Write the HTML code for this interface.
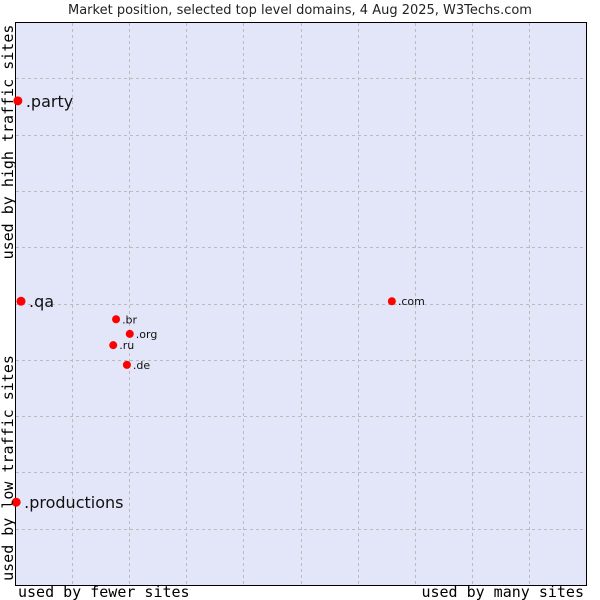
<!DOCTYPE html>
<html><head><meta charset="utf-8"><style>body{margin:0;background:#fff}svg{display:block}</style></head>
<body>
<svg id="chart" width="600" height="600" xmlns="http://www.w3.org/2000/svg">
<text x="300" y="14" text-anchor="middle" font-family="DejaVu Sans, sans-serif" font-size="13" fill="#222">Market position, selected top level domains, 4 Aug 2025, W3Techs.com</text>
<rect x="15.5" y="22.5" width="571" height="563" fill="#e3e5f8" stroke="#000"/>
<g id="grid"></g>
<g id="marks"></g>
<text x="18" y="597" font-family="DejaVu Sans Mono, monospace" font-size="15" fill="#000">used by fewer sites</text>
<text x="584" y="597" text-anchor="end" font-family="DejaVu Sans Mono, monospace" font-size="15" fill="#000">used by many sites</text>
<text transform="translate(13,142) rotate(-90)" text-anchor="middle" font-family="DejaVu Sans Mono, monospace" font-size="15" fill="#000">used by high traffic sites</text>
<text transform="translate(13,468) rotate(-90)" text-anchor="middle" font-family="DejaVu Sans Mono, monospace" font-size="15" fill="#000">used by low traffic sites</text>
</svg>
<script>
const domains=[".party",".qa",".productions",".com",".br",".org",".ru",".de"];
const xValues=[0.5,1.05,0.2,66,17.7,20.1,17.2,19.6];
const yValues=[86,50.4,14.7,50.4,47.2,44.6,42.6,39.1];
const bigLabel=[true,true,true,false,false,false,false,false];
const NS="http://www.w3.org/2000/svg";
const x0=15,x1=586,y0=585,y1=22;
function sx(v){return x0+(x1-x0)*v/100;}
function sy(v){return y0-(y0-y1)*v/100;}
const grid=document.getElementById('grid');
for(let i=1;i<10;i++){
 const xl=document.createElementNS(NS,'line');
 const gx=Math.round(sx(i*10))+0.5;
 xl.setAttribute('x1',gx);xl.setAttribute('x2',gx);xl.setAttribute('y1',23);xl.setAttribute('y2',585);
 xl.setAttribute('stroke','#bbb');xl.setAttribute('stroke-dasharray','3,3');
 
 
 grid.appendChild(xl);
 const yl=document.createElementNS(NS,'line');
 const gy=Math.round(sy(i*10))+0.5;
 yl.setAttribute('x1',16);yl.setAttribute('x2',586);yl.setAttribute('y1',gy);yl.setAttribute('y2',gy);
 yl.setAttribute('stroke','#bbb');yl.setAttribute('stroke-dasharray','3,3');
 
 
 grid.appendChild(yl);
}
const marks=document.getElementById('marks');
domains.forEach((d,i)=>{
 const cx=sx(xValues[i]),cy=sy(yValues[i]);
 const c=document.createElementNS(NS,'circle');
 c.setAttribute('cx',cx);c.setAttribute('cy',cy);c.setAttribute('r',bigLabel[i]?4.5:4);c.setAttribute('fill','#f00');
 
 
 marks.appendChild(c);
 const t=document.createElementNS(NS,'text');
 t.setAttribute('x',cx+(bigLabel[i]?8:6));t.setAttribute('y',cy+(bigLabel[i]?6:4));
 t.setAttribute('font-family','DejaVu Sans, sans-serif');t.setAttribute('font-size',bigLabel[i]?16:11);t.setAttribute('fill','#111');
 t.textContent=d;
 
 
 marks.appendChild(t);
});
</script>
</body></html>
